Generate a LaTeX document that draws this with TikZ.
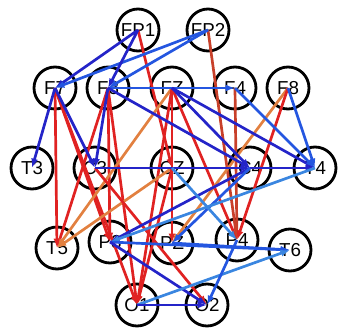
\documentclass[tikz,border=0pt]{standalone}
\usepackage{fontspec}
\setmainfont{Liberation Sans}
\usetikzlibrary{arrows.meta}

\begin{document}
\begin{tikzpicture}[
    x=0.03cm, y=-0.03cm,
    >={Latex[length=8pt,width=6pt]}
]

\definecolor{edgered}{HTML}{E02222}
\definecolor{edgebrown}{HTML}{C8402A}
\definecolor{edgeorange}{HTML}{E28040}
\definecolor{edgeblue}{HTML}{2424C8}
\definecolor{edgemid}{HTML}{2456E0}
\definecolor{edgelight}{HTML}{3A86E0}

\tikzset{
    electrode/.style={
        circle,
        draw=black,
        line width=2.4pt,
        minimum size=1.26cm,
        inner sep=0pt,
        font=\fontsize{16}{19}\selectfont
    },
    arr/.style={
        ->,
        line width=2.3pt
    }
}

\useasboundingbox (0,0) rectangle (339,332);

% Nodes
\node[electrode] (fp1) at (138,30) {FP1};
\node[electrode] (fp2) at (208,30) {FP2};
\node[electrode] (f7) at (55,88) {F7};
\node[electrode] (f3) at (108,88) {F3};
\node[electrode] (fz) at (172,88) {FZ};
\node[electrode] (f4) at (235,88) {F4};
\node[electrode] (f8) at (288,88) {F8};
\node[electrode] (t3) at (32,168) {T3};
\node[electrode] (c3) at (95,168) {C3};
\node[electrode] (cz) at (172,168) {CZ};
\node[electrode] (c4) at (250,168) {C4};
\node[electrode] (t4) at (315,168) {T4};
\node[electrode] (t5) at (57,248) {T5};
\node[electrode] (p3) at (110,242) {P3};
\node[electrode] (pz) at (172,243) {PZ};
\node[electrode] (p4) at (237,240) {P4};
\node[electrode] (t6) at (290,250) {T6};
\node[electrode] (o1) at (137,305) {O1};
\node[electrode] (o2) at (207,305) {O2};

% Red and orange edges
\draw[arr, draw=edgered] (fp1.center) -- (cz.center);
\draw[arr, draw=edgebrown] (fp2.center) -- (p4.center);
\draw[arr, draw=edgered] (f7.center) -- (t5.center);
\draw[arr, draw=edgered] (f7.center) -- (p3.center);
\draw[arr, draw=edgered] (f7.center) -- (o1.center);
\draw[arr, draw=edgered] (f3.center) -- (t5.center);
\draw[arr, draw=edgered] (f3.center) -- (o1.center);
\draw[arr, draw=edgered] (f3.center) -- (p3.center);
\draw[arr, draw=edgeorange] (fz.center) -- (t5.center);
\draw[arr, draw=edgered] (fz.center) -- (o1.center);
\draw[arr, draw=edgered] (fz.center) -- (pz.center);
\draw[arr, draw=edgered] (fz.center) -- (p4.center);
\draw[arr, draw=edgeorange] (cz.center) -- (t5.center);
\draw[arr, draw=edgered] (cz.center) -- (o1.center);
\draw[arr, draw=edgered] (c3.center) -- (o2.center);
\draw[arr, draw=edgebrown] (f4.center) -- (p4.center);
\draw[arr, draw=edgeorange] (f8.center) -- (pz.center);
\draw[arr, draw=edgered] (f8.center) -- (p4.center);

% Blue edges
\draw[arr, draw=edgeblue] (fp1.center) -- (f7.center);
\draw[arr, draw=edgemid] (fp2.center) -- (f7.center);
\draw[arr, draw=edgeblue] (fp1.center) -- (f3.center);
\draw[arr, draw=edgemid] (fp2.center) -- (f3.center);
\draw[arr, draw=edgeblue] (f7.center) -- (t3.center);
\draw[arr, draw=edgeblue] (f7.center) -- (c3.center);
\draw[arr, draw=edgeblue] (f3.center) -- (c3.center);
\draw[arr, draw=edgemid] (f3.center) -- (f4.center);
\draw[arr, draw=edgeblue] (f3.center) -- (c4.center);
\draw[arr, draw=edgeblue] (fz.center) -- (c4.center);
\draw[arr, draw=edgeblue] (fz.center) -- (t4.center);
\draw[arr, draw=edgemid] (f4.center) -- (t4.center);
\draw[arr, draw=edgemid] (f8.center) -- (t4.center);
\draw[arr, draw=edgeblue] (c3.center) -- (c4.center);
\draw[arr, draw=edgeblue] (c4.center) -- (t4.center);
\draw[arr, draw=edgeblue] (c4.center) -- (p3.center);
\draw[arr, draw=edgemid] (c4.center) -- (pz.center);
\draw[arr, draw=edgelight] (t4.center) -- (p3.center);
\draw[arr, draw=edgelight] (cz.center) -- (p4.center);
\draw[arr, draw=edgemid] (p3.center) -- (t6.center);
\draw[arr, draw=edgemid] (pz.center) -- (t6.center);
\draw[arr, draw=edgeblue] (p3.center) -- (o2.center);
\draw[arr, draw=edgelight] (o1.center) -- (t6.center);
\draw[arr, draw=edgemid] (p4.center) -- (o2.center);
\draw[arr, draw=edgeblue] (o1.center) -- (o2.center);

\end{tikzpicture}
\end{document}
